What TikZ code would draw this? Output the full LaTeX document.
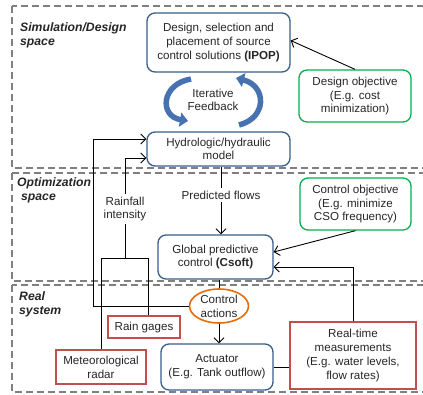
\documentclass[tikz,border=0pt]{standalone}
\usepackage{fontspec}
\setmainfont{Liberation Sans}
\usetikzlibrary{arrows.meta,shapes.geometric}
\definecolor{bboxc}{RGB}{56,93,138}
\definecolor{gboxc}{RGB}{0,176,80}
\definecolor{rboxc}{RGB}{192,80,77}
\definecolor{oboxc}{RGB}{228,108,10}
\definecolor{arrowblue}{RGB}{70,115,175}
\definecolor{dashgray}{RGB}{128,128,128}
\begin{document}
\begin{tikzpicture}[x=1pt,y=-1pt,
  every node/.style={font=\fontsize{11.6}{13.7}\selectfont, align=center, inner sep=0pt, text=black!85},
  bluebox/.style={draw=bboxc, line width=1.3pt, rounded corners=8pt},
  greenbox/.style={draw=gboxc, line width=1.3pt, rounded corners=8pt},
  redbox/.style={draw=rboxc, line width=1.5pt},
  orangeell/.style={draw=oboxc, line width=1.6pt, ellipse},
  region/.style={draw=dashgray, line width=2pt, dash pattern=on 7pt off 4pt},
  conn/.style={draw=black, line width=0.9pt},
  arr/.style={conn, -{Straight Barb[length=5pt,width=10pt]}},
  curv/.style={draw=arrowblue, line width=5.5pt, -{Triangle[length=8pt,width=14pt]}},
  seclabel/.style={font=\fontsize{12.2}{14}\selectfont\bfseries\itshape, align=left, anchor=north west}
]
\useasboundingbox (0,0) rectangle (423,394);
% regions
\draw[region] (12,6) rectangle (430,168);
\draw[region] (12,173) rectangle (430,281);
\draw[region] (12,285) rectangle (430,392);
\node[seclabel] (lab1) at (20,22) {Simulation/Design\\space};
\node[seclabel] (lab2) at (17,177) {Optimization\\\hspace*{4pt}space};
\node[seclabel] (lab3) at (19,291) {Real\\system};

% nodes
\node[bluebox, minimum width=143pt, minimum height=59pt] (ipop) at (218.5,42.5)
  {Design, selection and\\placement of source\\control solutions \textbf{(IPOP)}};
\node[bluebox, minimum width=143pt, minimum height=34pt] (hydro) at (218.5,149)
  {Hydrologic/hydraulic\\model};
\node[greenbox, minimum width=112pt, minimum height=52pt] (design) at (355,96)
  {Design objective\\(E.g. cost\\minimization)};
\node (iter) at (213,100) {Iterative\\Feedback};
\node (pf) at (221,195) {Predicted flows};
\node[greenbox, minimum width=111pt, minimum height=52pt] (ctrl) at (355.5,204)
  {Control objective\\(E.g. minimize\\CSO frequency)};
\node[bluebox, minimum width=115pt, minimum height=44pt] (csoft) at (215.5,257)
  {Global predictive\\control \textbf{(Csoft)}};
\node (rain) at (125,209) {Rainfall\\intensity};
\node[orangeell, minimum width=59pt, minimum height=34pt] (ell) at (219,306)
  {Control\\actions};
\node[redbox, minimum width=72pt, minimum height=22pt] (gages) at (144,327) {Rain gages};
\node[redbox, minimum width=90pt, minimum height=34pt] (radar) at (101,367)
  {Meteorological\\radar};
\node[bluebox, minimum width=112pt, minimum height=46pt] (act) at (217,367)
  {Actuator\\(E.g. Tank outflow)};
\node[redbox, minimum width=126pt, minimum height=67pt] (rt) at (353,355.5)
  {Real-time\\measurements\\(E.g. water levels,\\flow rates)};

% curved feedback arrows
\draw[curv] (191,79) .. controls (161,84) and (159,116) .. (188,121);
\draw[curv] (239,125) .. controls (267,118) and (267,86) .. (236,78);

% connectors
\draw[arr] (design.north) -- ([yshift=2pt]ipop.east);
\draw[conn] (hydro.south -| pf.north) -- ([yshift=3pt]pf.north);
\draw[arr] ([yshift=-3pt]pf.south) -- (pf.south |- csoft.north);
\draw[arr] (ctrl.south) -- ([yshift=5pt]csoft.east);
\draw[arr] (rt.north) |- ([yshift=-10pt]csoft.east);
\draw[conn] (ell.north |- csoft.south) -- (ell.north);
\draw[arr] (ell.south) -- (ell.south |- act.north);
\draw[conn] (act.east) -- (rt.west |- act.east);
\coordinate (fb) at (93,139);
\draw[arr] (ell.west) -| (fb) -- (fb -| hydro.west);
\coordinate (rf) at (125,158);
\draw[arr] ([yshift=3pt]rain.north) -- (rf) -- (rf -| hydro.west);
\coordinate (br) at (148,258);
\draw[conn] ([yshift=-3pt]rain.south) -- (rain.south |- br);
\draw[conn] (radar.north) |- (br) -- (br |- gages.north);
\end{tikzpicture}
\end{document}
